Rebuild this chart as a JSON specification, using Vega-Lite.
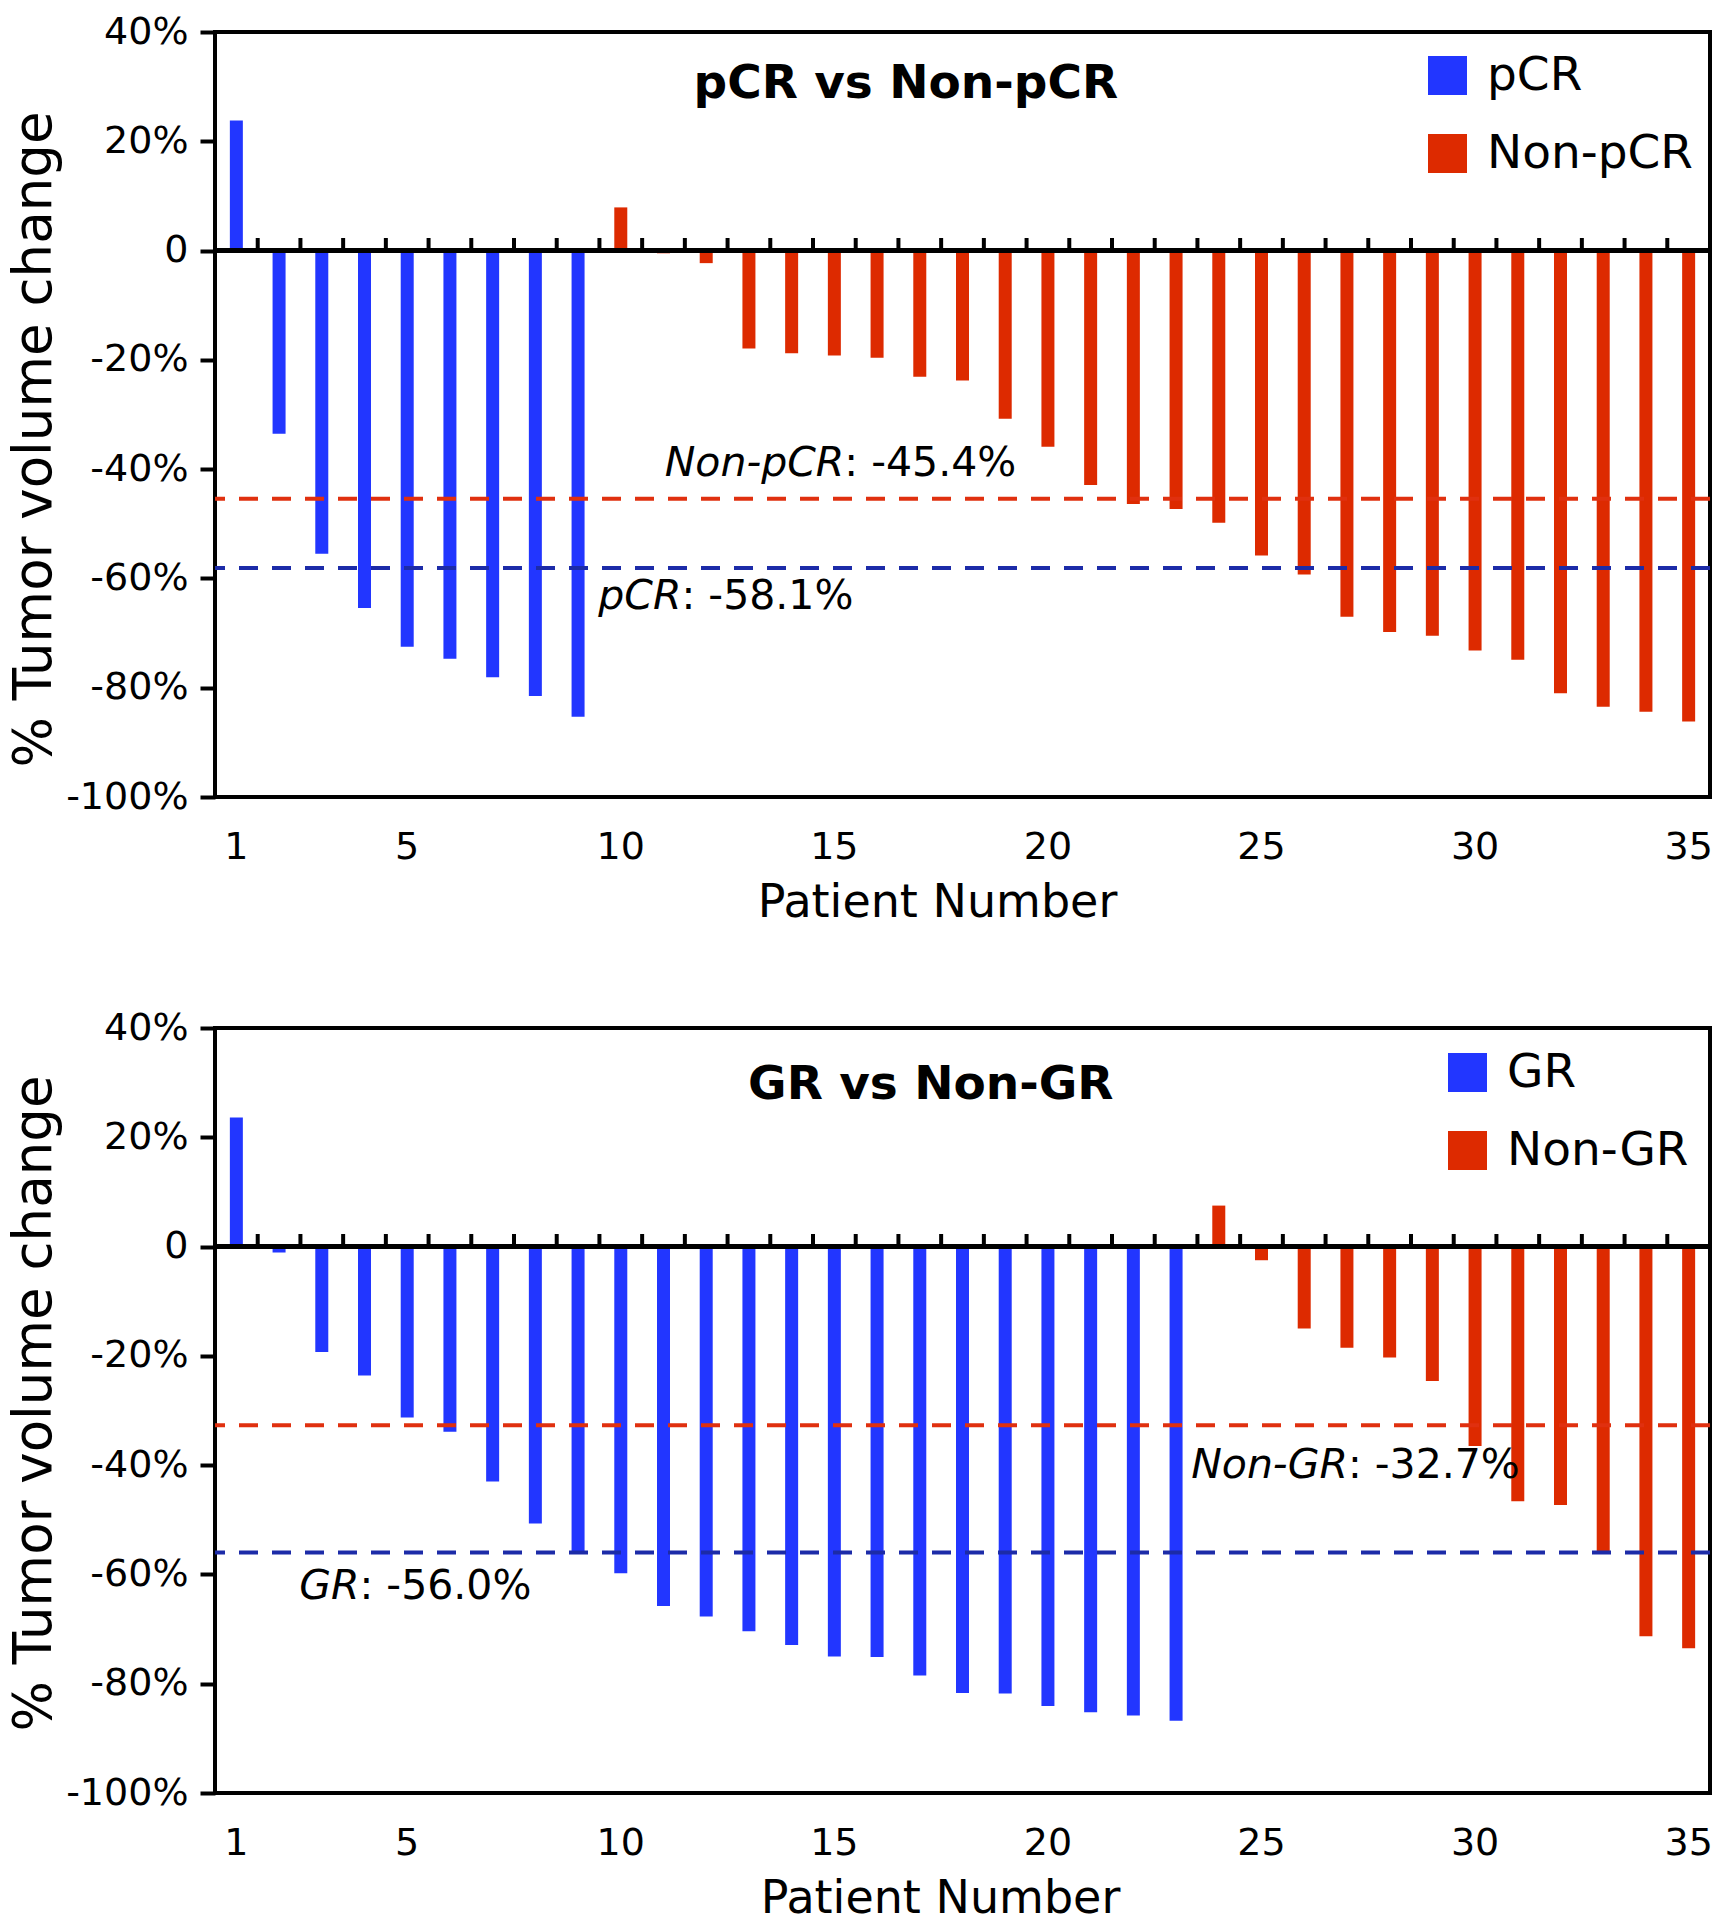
{
  "$schema": "https://vega.github.io/schema/vega-lite/v6.json",
  "padding": {"left": 6, "top": 11, "right": 0, "bottom": 0},
  "config": {
    "font": "DejaVu Sans",
    "view": {"stroke": "black", "strokeWidth": 4},
    "axis": {"labelColor": "black", "titleColor": "black", "grid": false, "titleFontWeight": "normal", "labelFont": "DejaVu Sans", "titleFont": "DejaVu Sans"},
    "legend": {"labelColor": "black", "labelFont": "DejaVu Sans"}
  },
  "datasets": {
    "pcr": [
      {"patient": 1, "change": 23.8, "group": "pCR"},
      {"patient": 2, "change": -33.5, "group": "pCR"},
      {"patient": 3, "change": -55.5, "group": "pCR"},
      {"patient": 4, "change": -65.4, "group": "pCR"},
      {"patient": 5, "change": -72.5, "group": "pCR"},
      {"patient": 6, "change": -74.7, "group": "pCR"},
      {"patient": 7, "change": -78.1, "group": "pCR"},
      {"patient": 8, "change": -81.5, "group": "pCR"},
      {"patient": 9, "change": -85.3, "group": "pCR"},
      {"patient": 10, "change": 7.9, "group": "Non-pCR"},
      {"patient": 11, "change": -0.5, "group": "Non-pCR"},
      {"patient": 12, "change": -2.3, "group": "Non-pCR"},
      {"patient": 13, "change": -17.9, "group": "Non-pCR"},
      {"patient": 14, "change": -18.8, "group": "Non-pCR"},
      {"patient": 15, "change": -19.2, "group": "Non-pCR"},
      {"patient": 16, "change": -19.6, "group": "Non-pCR"},
      {"patient": 17, "change": -23.1, "group": "Non-pCR"},
      {"patient": 18, "change": -23.8, "group": "Non-pCR"},
      {"patient": 19, "change": -30.8, "group": "Non-pCR"},
      {"patient": 20, "change": -35.9, "group": "Non-pCR"},
      {"patient": 21, "change": -42.9, "group": "Non-pCR"},
      {"patient": 22, "change": -46.4, "group": "Non-pCR"},
      {"patient": 23, "change": -47.3, "group": "Non-pCR"},
      {"patient": 24, "change": -49.8, "group": "Non-pCR"},
      {"patient": 25, "change": -55.8, "group": "Non-pCR"},
      {"patient": 26, "change": -59.3, "group": "Non-pCR"},
      {"patient": 27, "change": -67.0, "group": "Non-pCR"},
      {"patient": 28, "change": -69.8, "group": "Non-pCR"},
      {"patient": 29, "change": -70.5, "group": "Non-pCR"},
      {"patient": 30, "change": -73.2, "group": "Non-pCR"},
      {"patient": 31, "change": -74.9, "group": "Non-pCR"},
      {"patient": 32, "change": -81.0, "group": "Non-pCR"},
      {"patient": 33, "change": -83.5, "group": "Non-pCR"},
      {"patient": 34, "change": -84.4, "group": "Non-pCR"},
      {"patient": 35, "change": -86.2, "group": "Non-pCR"}
    ],
    "gr": [
      {"patient": 1, "change": 23.6, "group": "GR"},
      {"patient": 2, "change": -1.1, "group": "GR"},
      {"patient": 3, "change": -19.3, "group": "GR"},
      {"patient": 4, "change": -23.6, "group": "GR"},
      {"patient": 5, "change": -31.3, "group": "GR"},
      {"patient": 6, "change": -33.9, "group": "GR"},
      {"patient": 7, "change": -43.0, "group": "GR"},
      {"patient": 8, "change": -50.7, "group": "GR"},
      {"patient": 9, "change": -56.0, "group": "GR"},
      {"patient": 10, "change": -59.8, "group": "GR"},
      {"patient": 11, "change": -65.8, "group": "GR"},
      {"patient": 12, "change": -67.7, "group": "GR"},
      {"patient": 13, "change": -70.4, "group": "GR"},
      {"patient": 14, "change": -72.9, "group": "GR"},
      {"patient": 15, "change": -75.0, "group": "GR"},
      {"patient": 16, "change": -75.1, "group": "GR"},
      {"patient": 17, "change": -78.5, "group": "GR"},
      {"patient": 18, "change": -81.7, "group": "GR"},
      {"patient": 19, "change": -81.8, "group": "GR"},
      {"patient": 20, "change": -84.1, "group": "GR"},
      {"patient": 21, "change": -85.2, "group": "GR"},
      {"patient": 22, "change": -85.8, "group": "GR"},
      {"patient": 23, "change": -86.8, "group": "GR"},
      {"patient": 24, "change": 7.5, "group": "Non-GR"},
      {"patient": 25, "change": -2.5, "group": "Non-GR"},
      {"patient": 26, "change": -15.0, "group": "Non-GR"},
      {"patient": 27, "change": -18.5, "group": "Non-GR"},
      {"patient": 28, "change": -20.3, "group": "Non-GR"},
      {"patient": 29, "change": -24.6, "group": "Non-GR"},
      {"patient": 30, "change": -36.5, "group": "Non-GR"},
      {"patient": 31, "change": -46.6, "group": "Non-GR"},
      {"patient": 32, "change": -47.3, "group": "Non-GR"},
      {"patient": 33, "change": -56.1, "group": "Non-GR"},
      {"patient": 34, "change": -71.3, "group": "Non-GR"},
      {"patient": 35, "change": -73.5, "group": "Non-GR"}
    ]
  },
  "spacing": 80,
  "resolve": {"scale": {"color": "independent"}, "legend": {"color": "independent"}},
  "vconcat": [
    {
      "width": 1495,
      "height": 765,
      "layer": [
        {
          "data": {"name": "pcr"},
          "mark": {"type": "bar", "width": 13},
          "encoding": {
            "x": {"field": "patient", "type": "ordinal", "scale": {"paddingInner": 0, "paddingOuter": 0},
              "axis": {"values": [1, 5, 10, 15, 20, 25, 30, 35], "ticks": false, "domain": false, "labelAngle": 0, "labelFontSize": 38, "labelPadding": 31, "title": "Patient Number", "titleFontSize": 46, "titlePadding": 14, "titleX": 722}},
            "y": {"field": "change", "type": "quantitative", "scale": {"domain": [-100, 40], "nice": false},
              "axis": {"values": [-100, -80, -60, -40, -20, 0, 20, 40], "labelExpr": "datum.value == 0 ? '0' : datum.value + '%'", "tickSize": 15, "tickWidth": 4, "tickColor": "black", "domain": false, "labelFontSize": 38, "labelPadding": 12, "title": "% Tumor volume change", "titleFontSize": 53, "titlePadding": 4, "titleY": 407}},
            "color": {"field": "group", "type": "nominal", "scale": {"domain": ["pCR", "Non-pCR"], "range": ["#2236FF", "#DD2A00"]},
              "legend": {"title": null, "orient": "none", "legendX": 1209, "legendY": 20, "symbolType": "square", "symbolSize": 1521, "symbolStrokeWidth": 0, "labelFontSize": 47, "labelLimit": 400, "padding": 0, "rowPadding": 30, "labelOffset": 16}}
          }
        },
        {
          "data": {"name": "pcr"},
          "transform": [{"filter": "datum.patient > 1"}],
          "mark": {"type": "rule", "color": "black", "strokeWidth": 4},
          "encoding": {
            "x": {"field": "patient", "type": "ordinal", "bandPosition": 0},
            "y": {"datum": 0},
            "y2": {"datum": 2.3}
          }
        },
        {
          "data": {"values": [{}]},
          "mark": {"type": "rule", "color": "black", "strokeWidth": 5},
          "encoding": {"y": {"datum": 0}}
        },
        {
          "data": {"values": [{}]},
          "mark": {"type": "rule", "color": "#E0300F", "strokeWidth": 4, "strokeDash": [19, 14]},
          "encoding": {"y": {"datum": -45.4}}
        },
        {
          "data": {"values": [{}]},
          "mark": {"type": "rule", "color": "#1C2BA8", "strokeWidth": 4, "strokeDash": [19, 14]},
          "encoding": {"y": {"datum": -58.1}}
        },
        {
          "data": {"values": [{}]},
          "mark": {"type": "text", "fontSize": 47, "fontWeight": "bold", "align": "center", "baseline": "middle", "dx": -14, "color": "black"},
          "encoding": {"x": {"datum": 17, "type": "ordinal"}, "y": {"datum": 30.5}, "text": {"value": "pCR vs Non-pCR"}}
        },
        {
          "data": {"values": [{}]},
          "mark": {"type": "text", "fontSize": 41, "fontStyle": "italic", "align": "right", "baseline": "middle", "dx": 10, "color": "black"},
          "encoding": {"x": {"datum": 15, "type": "ordinal"}, "y": {"datum": -39.0}, "text": {"value": "Non-pCR"}}
        },
        {
          "data": {"values": [{}]},
          "mark": {"type": "text", "fontSize": 41, "align": "left", "baseline": "middle", "dx": 10, "color": "black"},
          "encoding": {"x": {"datum": 15, "type": "ordinal"}, "y": {"datum": -39.0}, "text": {"value": ": -45.4%"}}
        },
        {
          "data": {"values": [{}]},
          "mark": {"type": "text", "fontSize": 41, "fontStyle": "italic", "align": "right", "baseline": "middle", "dx": 18, "color": "black"},
          "encoding": {"x": {"datum": 11, "type": "ordinal"}, "y": {"datum": -63.4}, "text": {"value": "pCR"}}
        },
        {
          "data": {"values": [{}]},
          "mark": {"type": "text", "fontSize": 41, "align": "left", "baseline": "middle", "dx": 18, "color": "black"},
          "encoding": {"x": {"datum": 11, "type": "ordinal"}, "y": {"datum": -63.4}, "text": {"value": ": -58.1%"}}
        }
      ]
    },
    {
      "width": 1495,
      "height": 765,
      "layer": [
        {
          "data": {"name": "gr"},
          "mark": {"type": "bar", "width": 13},
          "encoding": {
            "x": {"field": "patient", "type": "ordinal", "scale": {"paddingInner": 0, "paddingOuter": 0},
              "axis": {"values": [1, 5, 10, 15, 20, 25, 30, 35], "ticks": false, "domain": false, "labelAngle": 0, "labelFontSize": 38, "labelPadding": 31, "title": "Patient Number", "titleFontSize": 46, "titlePadding": 14, "titleX": 725}},
            "y": {"field": "change", "type": "quantitative", "scale": {"domain": [-100, 40], "nice": false},
              "axis": {"values": [-100, -80, -60, -40, -20, 0, 20, 40], "labelExpr": "datum.value == 0 ? '0' : datum.value + '%'", "tickSize": 15, "tickWidth": 4, "tickColor": "black", "domain": false, "labelFontSize": 38, "labelPadding": 12, "title": "% Tumor volume change", "titleFontSize": 53, "titlePadding": 4, "titleY": 375}},
            "color": {"field": "group", "type": "nominal", "scale": {"domain": ["GR", "Non-GR"], "range": ["#2236FF", "#DD2A00"]},
              "legend": {"title": null, "orient": "none", "legendX": 1229, "legendY": 21, "symbolType": "square", "symbolSize": 1521, "symbolStrokeWidth": 0, "labelFontSize": 47, "labelLimit": 400, "padding": 0, "rowPadding": 30, "labelOffset": 16}}
          }
        },
        {
          "data": {"name": "gr"},
          "transform": [{"filter": "datum.patient > 1"}],
          "mark": {"type": "rule", "color": "black", "strokeWidth": 4},
          "encoding": {
            "x": {"field": "patient", "type": "ordinal", "bandPosition": 0},
            "y": {"datum": 0},
            "y2": {"datum": 2.3}
          }
        },
        {
          "data": {"values": [{}]},
          "mark": {"type": "rule", "color": "black", "strokeWidth": 5},
          "encoding": {"y": {"datum": 0}}
        },
        {
          "data": {"values": [{}]},
          "mark": {"type": "rule", "color": "#E0300F", "strokeWidth": 4, "strokeDash": [19, 14]},
          "encoding": {"y": {"datum": -32.7}}
        },
        {
          "data": {"values": [{}]},
          "mark": {"type": "rule", "color": "#1C2BA8", "strokeWidth": 4, "strokeDash": [19, 14]},
          "encoding": {"y": {"datum": -56.0}}
        },
        {
          "data": {"values": [{}]},
          "mark": {"type": "text", "fontSize": 47, "fontWeight": "bold", "align": "center", "baseline": "middle", "dx": 11, "color": "black"},
          "encoding": {"x": {"datum": 17, "type": "ordinal"}, "y": {"datum": 29.6}, "text": {"value": "GR vs Non-GR"}}
        },
        {
          "data": {"values": [{}]},
          "mark": {"type": "text", "fontSize": 41, "fontStyle": "italic", "align": "right", "baseline": "middle", "dx": 1, "color": "black"},
          "encoding": {"x": {"datum": 27, "type": "ordinal"}, "y": {"datum": -40.2}, "text": {"value": "Non-GR"}}
        },
        {
          "data": {"values": [{}]},
          "mark": {"type": "text", "fontSize": 41, "align": "left", "baseline": "middle", "dx": 1, "color": "black"},
          "encoding": {"x": {"datum": 27, "type": "ordinal"}, "y": {"datum": -40.2}, "text": {"value": ": -32.7%"}}
        },
        {
          "data": {"values": [{}]},
          "mark": {"type": "text", "fontSize": 41, "fontStyle": "italic", "align": "right", "baseline": "middle", "dx": -5, "color": "black"},
          "encoding": {"x": {"datum": 4, "type": "ordinal"}, "y": {"datum": -62.3}, "text": {"value": "GR"}}
        },
        {
          "data": {"values": [{}]},
          "mark": {"type": "text", "fontSize": 41, "align": "left", "baseline": "middle", "dx": -5, "color": "black"},
          "encoding": {"x": {"datum": 4, "type": "ordinal"}, "y": {"datum": -62.3}, "text": {"value": ": -56.0%"}}
        }
      ]
    }
  ]
}
